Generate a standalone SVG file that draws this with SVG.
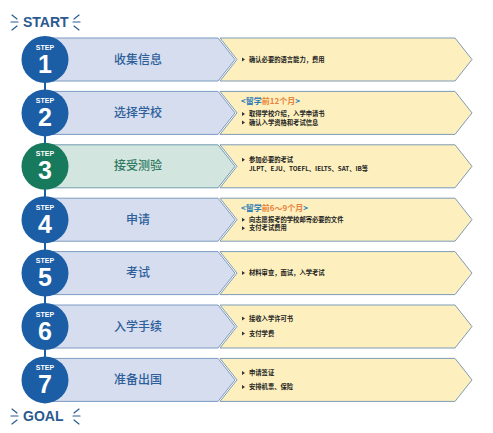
<svg xmlns="http://www.w3.org/2000/svg" width="493" height="433" viewBox="0 0 493 433">
<style>
.band{fill:#d5ddef;stroke:#7d9bc0;stroke-width:1}
.bandg{fill:#d3e5df;stroke:#6f9cb0;stroke-width:1}
.yel{fill:#fdf0be;stroke:#7d9bb5;stroke-width:1}
.circ{fill:#1b5ea6}
.circg{fill:#177a5c}
.step{font-family:"Liberation Sans",Arial,sans-serif;font-weight:bold;font-size:7px;fill:#fff;text-anchor:middle}
.num{font-family:"Liberation Sans",Arial,sans-serif;font-weight:bold;font-size:25px;fill:#fff;text-anchor:middle}
.title{font-family:"Noto Sans CJK SC",sans-serif;font-size:12px;font-weight:500;fill:#2f5f9a;text-anchor:middle}
.titleg{font-family:"Noto Sans CJK SC",sans-serif;font-size:12px;font-weight:500;fill:#2f7a62;text-anchor:middle}
.det{font-family:"Noto Sans CJK SC",sans-serif;font-size:6.3px;font-weight:bold;fill:#222}
.hdr{font-family:"Noto Sans CJK SC",sans-serif;font-size:8px;font-weight:bold;fill:#2a7ab8}
.org{fill:#e8823a}
.bul{fill:#333}
.big{font-family:"Liberation Sans",Arial,sans-serif;font-weight:bold;font-size:14px;fill:#2a5a8f}
.ray{stroke:#2a5a8f;stroke-width:1.2;stroke-linecap:round;fill:none}
.conn{stroke:#1b5ea6;stroke-width:2}
</style>
<defs>
<path id="blueShape" d="M45,-21.5 H218 L235,0 L218,21.5 H45 Z"/>
<path id="yelShape" d="M220,-21.5 H455 L472,0 L455,21.5 H220 L237,0 Z"/>
<path id="tri" d="M0,-2 L3,0 L0,2 Z"/>
</defs>

<g id="start">
<text class="big" x="23" y="27">START</text>
<path class="ray" d="M12,15 L17,19 M11,22 L18,22 M12,30 L17,26 M79,15 L74,19 M80,22 L73,22 M79,30 L74,26"/>
</g>

<g id="connectors">
<line class="conn" x1="45" y1="80" x2="45" y2="93"/>
<line class="conn" x1="45" y1="134" x2="45" y2="146"/>
<line class="conn" x1="45" y1="187" x2="45" y2="200"/>
<line class="conn" x1="45" y1="241" x2="45" y2="253"/>
<line class="conn" x1="45" y1="294" x2="45" y2="306"/>
<line class="conn" x1="45" y1="347" x2="45" y2="360"/>
</g>

<g id="step1" transform="translate(0,59.5)">
<use href="#blueShape" class="band"/>
<use href="#yelShape" class="yel"/>
<circle class="circ" cx="45" cy="0" r="23.5"/>
<text class="step" x="45" y="-10">STEP</text>
<text class="num" x="45" y="13">1</text>
<text class="title" x="138" y="4">收集信息</text>
<use href="#tri" class="bul" x="242" y="0"/>
<text class="det" x="249" y="2.3">确认必要的语言能力，费用</text>
</g>

<g id="step2" transform="translate(0,112.9)">
<use href="#blueShape" class="band"/>
<use href="#yelShape" class="yel"/>
<circle class="circ" cx="45" cy="0" r="23.5"/>
<text class="step" x="45" y="-10">STEP</text>
<text class="num" x="45" y="13">2</text>
<text class="title" x="138" y="4">选择学校</text>
<text class="hdr" x="241" y="-9">&lt;留学<tspan class="org">前12个月</tspan>&gt;</text>
<use href="#tri" class="bul" x="242" y="1"/>
<text class="det" x="249" y="3.3">取得学校介绍，入学申请书</text>
<use href="#tri" class="bul" x="242" y="9.5"/>
<text class="det" x="249" y="11.8">确认入学资格和考试信息</text>
</g>

<g id="step3" transform="translate(0,166.3)">
<use href="#blueShape" class="bandg"/>
<use href="#yelShape" class="yel"/>
<circle class="circg" cx="45" cy="0" r="23.5"/>
<text class="step" x="45" y="-10">STEP</text>
<text class="num" x="45" y="13">3</text>
<text class="titleg" x="138" y="4">接受测验</text>
<use href="#tri" class="bul" x="242" y="-6.5"/>
<text class="det" x="249" y="-4.2">参加必要的考试</text>
<text class="det" x="249" y="4.6">JLPT、EJU、TOEFL、IELTS、SAT、IB等</text>
</g>

<g id="step4" transform="translate(0,219.7)">
<use href="#blueShape" class="band"/>
<use href="#yelShape" class="yel"/>
<circle class="circ" cx="45" cy="0" r="23.5"/>
<text class="step" x="45" y="-10">STEP</text>
<text class="num" x="45" y="13">4</text>
<text class="title" x="138" y="4">申请</text>
<text class="hdr" x="241" y="-9">&lt;留学<tspan class="org">前6～9个月</tspan>&gt;</text>
<use href="#tri" class="bul" x="242" y="0"/>
<text class="det" x="249" y="2.3">向志愿报考的学校邮寄必要的文件</text>
<use href="#tri" class="bul" x="242" y="8.5"/>
<text class="det" x="249" y="10.8">支付考试费用</text>
</g>

<g id="step5" transform="translate(0,273.1)">
<use href="#blueShape" class="band"/>
<use href="#yelShape" class="yel"/>
<circle class="circ" cx="45" cy="0" r="23.5"/>
<text class="step" x="45" y="-10">STEP</text>
<text class="num" x="45" y="13">5</text>
<text class="title" x="138" y="4">考试</text>
<use href="#tri" class="bul" x="242" y="0"/>
<text class="det" x="249" y="2.3">材料审查，面试，入学考试</text>
</g>

<g id="step6" transform="translate(0,326.5)">
<use href="#blueShape" class="band"/>
<use href="#yelShape" class="yel"/>
<circle class="circ" cx="45" cy="0" r="23.5"/>
<text class="step" x="45" y="-10">STEP</text>
<text class="num" x="45" y="13">6</text>
<text class="title" x="138" y="4">入学手续</text>
<use href="#tri" class="bul" x="242" y="-8"/>
<text class="det" x="249" y="-5.7">接收入学许可书</text>
<use href="#tri" class="bul" x="242" y="7"/>
<text class="det" x="249" y="9.3">支付学费</text>
</g>

<g id="step7" transform="translate(0,379.9)">
<use href="#blueShape" class="band"/>
<use href="#yelShape" class="yel"/>
<circle class="circ" cx="45" cy="0" r="23.5"/>
<text class="step" x="45" y="-10">STEP</text>
<text class="num" x="45" y="13">7</text>
<text class="title" x="138" y="4">准备出国</text>
<use href="#tri" class="bul" x="242" y="-7"/>
<text class="det" x="249" y="-4.7">申请签证</text>
<use href="#tri" class="bul" x="242" y="7"/>
<text class="det" x="249" y="9.3">安排机票、保险</text>
</g>

<g id="goal">
<text class="big" x="23" y="421">GOAL</text>
<path class="ray" d="M12,409 L17,413 M11,416 L18,416 M12,424 L17,420 M79,409 L74,413 M80,416 L73,416 M79,424 L74,420"/>
</g>
</svg>
